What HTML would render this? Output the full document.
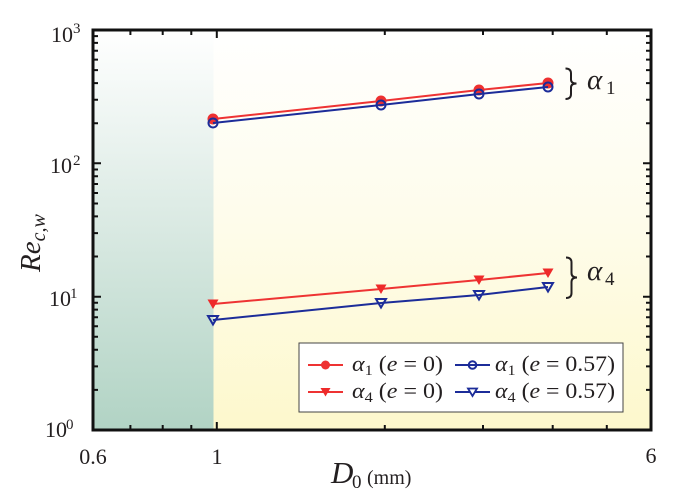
<!DOCTYPE html>
<html><head><meta charset="utf-8"><style>
html,body{margin:0;padding:0;background:#fff;}
svg{display:block;}
text{font-family:"Liberation Serif","Times New Roman",Times,"DejaVu Serif",serif;fill:#231f20;}
</style></head><body>
<svg width="685" height="504" viewBox="0 0 685 504" xmlns="http://www.w3.org/2000/svg">
<defs>
<linearGradient id="gl" x1="0" y1="0" x2="0" y2="1">
<stop offset="0" stop-color="#ffffff"/>
<stop offset="0.5" stop-color="#d9e9e2"/>
<stop offset="1" stop-color="#b1d3c4"/>
</linearGradient>
<linearGradient id="gr" x1="0" y1="0" x2="0" y2="1">
<stop offset="0" stop-color="#ffffff"/>
<stop offset="0.5" stop-color="#fefcea"/>
<stop offset="1" stop-color="#fdf8cc"/>
</linearGradient>
</defs>
<rect x="93" y="30" width="120.5" height="400" fill="url(#gl)"/>
<rect x="213.5" y="30" width="437.5" height="400" fill="url(#gr)"/>

<g stroke="#111" stroke-width="2" fill="none">
<path d="M93 389.9h5M93 366.4h5M93 349.7h5M93 336.8h5M93 326.3h5M93 317.3h5M93 309.6h5M93 302.8h5M93 296.7h8
M93 256.5h5M93 233.1h5M93 216.4h5M93 203.5h5M93 193h5M93 184h5M93 176.3h5M93 169.5h5M93 163.3h8
M93 123.2h5M93 99.7h5M93 83.1h5M93 70.1h5M93 59.6h5M93 50.7h5M93 42.9h5M93 36.1h5"/>
<path d="M651 389.9h-5M651 366.4h-5M651 349.7h-5M651 336.8h-5M651 326.3h-5M651 317.3h-5M651 309.6h-5M651 302.8h-5M651 296.7h-8
M651 256.5h-5M651 233.1h-5M651 216.4h-5M651 203.5h-5M651 193h-5M651 184h-5M651 176.3h-5M651 169.5h-5M651 163.3h-8
M651 123.2h-5M651 99.7h-5M651 83.1h-5M651 70.1h-5M651 59.6h-5M651 50.7h-5M651 42.9h-5M651 36.1h-5"/>
<path d="M130.4 430v-5M162.7 430v-5M191.3 430v-5M216.8 430v-8M384.8 430v-5M483 430v-5M552.7 430v-5M606.8 430v-5"/>
<path d="M130.4 30v5M162.7 30v5M191.3 30v5M216.8 30v8M384.8 30v5M483 30v5M552.7 30v5M606.8 30v5"/>
</g>
<rect x="93" y="30" width="558" height="400" fill="none" stroke="#111" stroke-width="3"/>

<polyline points="213,119 381,101 479,90 548,83" fill="none" stroke="#ee3333" stroke-width="2"/>
<g fill="#ee3030">
<circle cx="213" cy="119" r="5.5"/><circle cx="381" cy="101" r="5.5"/><circle cx="479" cy="90" r="5.5"/><circle cx="548" cy="83" r="5.5"/>
</g>
<polyline points="213,123 381,105 479,94 548,87" fill="none" stroke="#1c2c99" stroke-width="2"/>
<g fill="none" stroke="#1c2c99" stroke-width="2">
<circle cx="213" cy="123" r="4.5"/><circle cx="381" cy="105" r="4.5"/><circle cx="479" cy="94" r="4.5"/><circle cx="548" cy="87" r="4.5"/>
</g>
<polyline points="213,304 381,289 479,280 548,273" fill="none" stroke="#ee3333" stroke-width="2"/>
<g fill="#ee2a2a">
<polygon points="207.5,299.5 218.5,299.5 213,309"/>
<polygon points="375.5,284.5 386.5,284.5 381,294"/>
<polygon points="473.5,275.5 484.5,275.5 479,285"/>
<polygon points="542.5,268.5 553.5,268.5 548,278"/>
</g>
<polyline points="213,320 381,303 479,295 548,287" fill="none" stroke="#1c2c99" stroke-width="2"/>
<g fill="none" stroke="#1c2c99" stroke-width="2">
<polygon points="208,316 218,316 213,324.5"/>
<polygon points="376,299 386,299 381,307.5"/>
<polygon points="474,291 484,291 479,299.5"/>
<polygon points="543,283 553,283 548,291.5"/>
</g>

<g fill="none" stroke="#231f20" stroke-width="2">
<path d="M565.5 68.5 Q571 68.5 571 73.5 L571 79.5 Q571 83.5 576.5 83.5 Q571 83.5 571 87.5 L571 94 Q571 99 565.5 99"/>
<path d="M566 257.5 Q571.5 257.5 571.5 262.5 L571.5 273 Q571.5 277.5 577 277.5 Q571.5 277.5 571.5 282 L571.5 293 Q571.5 298 566 298"/>
</g>
<text x="587" y="89" font-size="29" font-style="italic">α</text>
<text x="606" y="94" font-size="19">1</text>
<text x="587" y="280" font-size="29" font-style="italic">α</text>
<text x="605" y="285" font-size="19">4</text>

<rect x="299" y="343" width="324" height="69" fill="#ffffff" stroke="#444" stroke-width="1"/>
<line x1="308" y1="365" x2="343" y2="365" stroke="#ee3333" stroke-width="2"/>
<circle cx="325.5" cy="365" r="4.5" fill="#ee3030"/>
<line x1="455" y1="365" x2="490" y2="365" stroke="#1c2c99" stroke-width="2"/>
<circle cx="472.5" cy="365" r="3.8" fill="none" stroke="#1c2c99" stroke-width="2"/>
<line x1="308" y1="392" x2="343" y2="392" stroke="#ee3333" stroke-width="2"/>
<polygon points="320.5,388 330.5,388 325.5,396.5" fill="#ee2a2a"/>
<line x1="455" y1="392" x2="490" y2="392" stroke="#1c2c99" stroke-width="2"/>
<polygon points="468,388.5 477,388.5 472.5,396" fill="#fff" stroke="#1c2c99" stroke-width="1.8"/>

<text x="352" y="371" font-size="22" textLength="91" lengthAdjust="spacingAndGlyphs"><tspan font-style="italic">α</tspan><tspan font-size="15" dy="4">1</tspan><tspan dy="-4"> (</tspan><tspan font-style="italic">e</tspan> = 0)</text>
<text x="495" y="371" font-size="22" textLength="120" lengthAdjust="spacingAndGlyphs"><tspan font-style="italic">α</tspan><tspan font-size="15" dy="4">1</tspan><tspan dy="-4"> (</tspan><tspan font-style="italic">e</tspan> = 0.57)</text>
<text x="352" y="398" font-size="22" textLength="91" lengthAdjust="spacingAndGlyphs"><tspan font-style="italic">α</tspan><tspan font-size="15" dy="4">4</tspan><tspan dy="-4"> (</tspan><tspan font-style="italic">e</tspan> = 0)</text>
<text x="495" y="398" font-size="22" textLength="120" lengthAdjust="spacingAndGlyphs"><tspan font-style="italic">α</tspan><tspan font-size="15" dy="4">4</tspan><tspan dy="-4"> (</tspan><tspan font-style="italic">e</tspan> = 0.57)</text>

<text x="51" y="42" font-size="22">10</text><text x="73" y="33" font-size="15">3</text>
<text x="50" y="173" font-size="22">10</text><text x="73" y="165" font-size="15">2</text>
<text x="49" y="306" font-size="22">10</text><text x="70" y="298" font-size="15">1</text>
<text x="45" y="437" font-size="22">10</text><text x="66" y="429" font-size="15">0</text>

<text x="93" y="464" font-size="22" text-anchor="middle">0.6</text>
<text x="217" y="464" font-size="22" text-anchor="middle">1</text>
<text x="651" y="463" font-size="22" text-anchor="middle">6</text>

<text x="331" y="483" font-size="31" font-style="italic">D</text>
<text x="352" y="488" font-size="19">0</text>
<text x="367" y="484" font-size="20">(mm)</text>

<g transform="translate(40,272) rotate(-90)">
<text x="0" y="0" font-size="29" font-style="italic">Re<tspan font-size="20" dy="5">c,w</tspan></text>
</g>
</svg>
</body></html>
